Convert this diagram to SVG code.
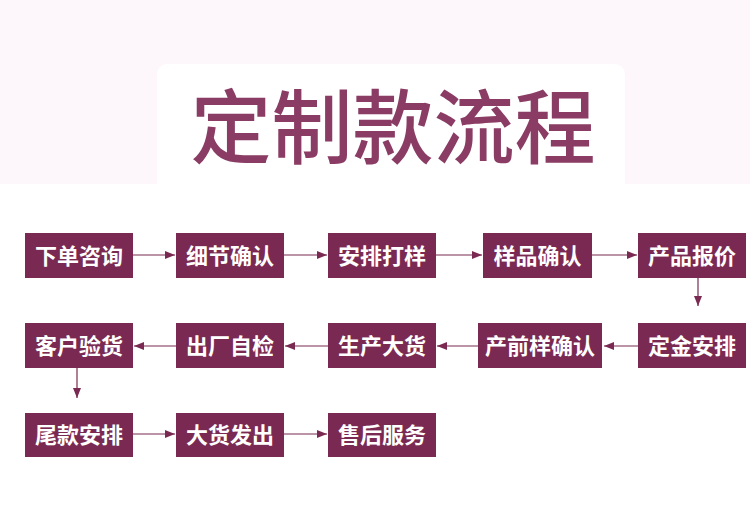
<svg xmlns="http://www.w3.org/2000/svg" width="750" height="519" viewBox="0 0 750 519">
<defs>
<style>
.box{fill:#7a2a52}
.lbl{fill:#ffffff;font-family:"Noto Sans CJK SC","Noto Sans",sans-serif;font-size:22px;font-weight:700;text-anchor:middle;dominant-baseline:central}
.ln{stroke:#7a2a52;stroke-width:1.2;fill:none;marker-end:url(#ah)}
</style>
<marker id="ah" viewBox="0 0 10 8" refX="10" refY="4" markerWidth="10" markerHeight="8" markerUnits="userSpaceOnUse" orient="auto">
<path d="M0,0 L10,4 L0,8 Z" fill="#7a2a52"/>
</marker>
</defs>
<rect x="0" y="0" width="750" height="184" fill="#fdf7fb"/>
<rect x="0" y="184" width="750" height="335" fill="#ffffff"/>
<rect x="157" y="64" width="468" height="130" rx="10" fill="#ffffff"/>
<rect x="157" y="150" width="468" height="34" fill="#ffffff"/>
<text x="393" y="121" font-family="Noto Sans CJK SC,sans-serif" font-size="81" font-weight="500" fill="#8a3c64" text-anchor="middle" dominant-baseline="central">定制款流程</text>

<g id="connectors">
<line class="ln" x1="133" y1="255" x2="175" y2="255"/>
<line class="ln" x1="284" y1="255" x2="327" y2="255"/>
<line class="ln" x1="436" y1="255" x2="482" y2="255"/>
<line class="ln" x1="592" y1="255" x2="637" y2="255"/>
<line class="ln" x1="698" y1="278" x2="698" y2="306"/>
<line class="ln" x1="638" y1="346" x2="604" y2="346"/>
<line class="ln" x1="478" y1="346" x2="437" y2="346"/>
<line class="ln" x1="328" y1="346" x2="285" y2="346"/>
<line class="ln" x1="176" y1="346" x2="134" y2="346"/>
<line class="ln" x1="77" y1="368" x2="77" y2="398"/>
<line class="ln" x1="133" y1="434" x2="175" y2="434"/>
<line class="ln" x1="284" y1="434" x2="327" y2="434"/>
</g>

<g id="n1"><rect class="box" x="25" y="233" width="108" height="45"/><text class="lbl" x="79" y="253.5">下单咨询</text></g>
<g id="n2"><rect class="box" x="176" y="233" width="108" height="45"/><text class="lbl" x="230" y="253.5">细节确认</text></g>
<g id="n3"><rect class="box" x="328" y="233" width="108" height="45"/><text class="lbl" x="382" y="253.5">安排打样</text></g>
<g id="n4"><rect class="box" x="483" y="233" width="109" height="45"/><text class="lbl" x="537.5" y="253.5">样品确认</text></g>
<g id="n5"><rect class="box" x="638" y="233" width="108" height="45"/><text class="lbl" x="692" y="253.5">产品报价</text></g>

<g id="n6"><rect class="box" x="638" y="323" width="108" height="45"/><text class="lbl" x="692" y="343.5">定金安排</text></g>
<g id="n7"><rect class="box" x="478" y="323" width="124" height="45"/><text class="lbl" x="540" y="343.5">产前样确认</text></g>
<g id="n8"><rect class="box" x="328" y="323" width="108" height="45"/><text class="lbl" x="382" y="343.5">生产大货</text></g>
<g id="n9"><rect class="box" x="176" y="323" width="108" height="45"/><text class="lbl" x="230" y="343.5">出厂自检</text></g>
<g id="n10"><rect class="box" x="25" y="323" width="108" height="45"/><text class="lbl" x="79" y="343.5">客户验货</text></g>

<g id="n11"><rect class="box" x="25" y="413" width="108" height="44"/><text class="lbl" x="79" y="433">尾款安排</text></g>
<g id="n12"><rect class="box" x="176" y="413" width="108" height="44"/><text class="lbl" x="230" y="433">大货发出</text></g>
<g id="n13"><rect class="box" x="328" y="413" width="108" height="44"/><text class="lbl" x="382" y="433">售后服务</text></g>
</svg>
